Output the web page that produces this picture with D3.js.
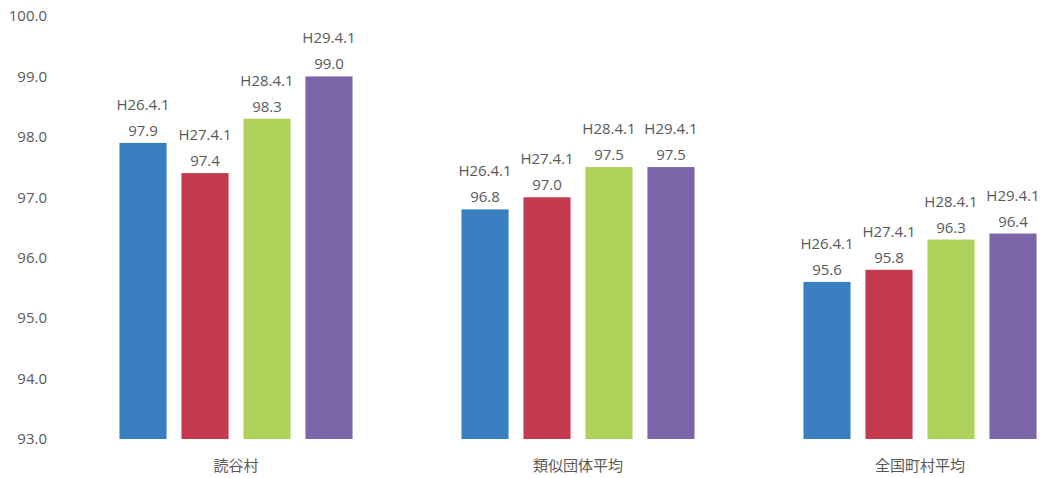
<html>
<head>
<meta charset="UTF-8">
<script src="https://d3js.org/d3.v7.min.js"></script>
<style>
  body { margin: 0; background: #fff; }
  text { font-family: "Open Sans", "Noto Sans", sans-serif; fill: #595959; }
  .cat { font-family: "Noto Sans CJK JP", sans-serif; }
</style>
</head>
<body>
<div id="chart"></div>
<script>
// categories and series
var categories = ["読谷村", "類似団体平均", "全国町村平均"];
var series = ["H26.4.1", "H27.4.1", "H28.4.1", "H29.4.1"];
var colors = ["#3a80c0", "#c33a4f", "#aed15a", "#7d65a9"];
// values per series, in category order
var h26 = [97.9, 96.8, 95.6];
var h27 = [97.4, 97.0, 95.8];
var h28 = [98.3, 97.5, 96.3];
var h29 = [99.0, 97.5, 96.4];
var yTicks = [93, 94, 95, 96, 97, 98, 99, 100];

var values = [h26, h27, h28, h29];

var width = 1040, height = 478;

var svg = d3.select("#chart").append("svg")
    .attr("width", width)
    .attr("height", height);

// scales
var y = d3.scaleLinear().domain([93, 100]).range([439, 16]);

var x0 = d3.scaleBand()
    .domain(categories)
    .range([65, 1091])
    .paddingInner(0.275)
    .paddingOuter(0.1375);

var x1 = d3.scaleBand()
    .domain(series)
    .range([0, x0.bandwidth()])
    .paddingInner(0.24)
    .paddingOuter(0.12);

// y axis (labels only)
var yAxis = svg.append("g")
    .attr("transform", "translate(52,0)")
    .call(d3.axisLeft(y).tickValues(yTicks).tickFormat(d3.format(".1f")).tickSize(0).tickPadding(5));
yAxis.select(".domain").remove();
yAxis.selectAll("text")
    .style("font-size", "15px")
    .attr("fill", "#666666");

// bars
var rows = [];
categories.forEach(function (c, ci) {
    series.forEach(function (s, si) {
        rows.push({cat: c, ser: s, si: si, val: values[si][ci]});
    });
});

var g = svg.append("g");

g.selectAll("rect")
    .data(rows)
    .enter()
    .append("rect")
    .attr("x", function (d) { return x0(d.cat) + x1(d.ser); })
    .attr("y", function (d) { return y(d.val); })
    .attr("width", x1.bandwidth())
    .attr("height", function (d) { return y(93) - y(d.val); })
    .attr("fill", function (d) { return colors[d.si]; });

// value labels (two lines)
var lbl = g.selectAll(".lbl")
    .data(rows)
    .enter()
    .append("text")
    .attr("class", "lbl")
    .attr("text-anchor", "middle")
    .style("font-size", "15px");

lbl.append("tspan")
    .attr("x", function (d) { return x0(d.cat) + x1(d.ser) + x1.bandwidth() / 2; })
    .attr("y", function (d) { return y(d.val) - 33; })
    .text(function (d) { return d.ser; });

lbl.append("tspan")
    .attr("x", function (d) { return x0(d.cat) + x1(d.ser) + x1.bandwidth() / 2; })
    .attr("y", function (d) { return y(d.val) - 7; })
    .text(function (d) { return d3.format(".1f")(d.val); });

// category labels
svg.append("g")
    .selectAll("text")
    .data(categories)
    .enter()
    .append("text")
    .attr("class", "cat")
    .attr("x", function (d) { return x0(d) + x0.bandwidth() / 2; })
    .attr("y", 471)
    .attr("text-anchor", "middle")
    .style("font-size", "15px")
    .text(function (d) { return d; });
</script>
</body>
</html>
